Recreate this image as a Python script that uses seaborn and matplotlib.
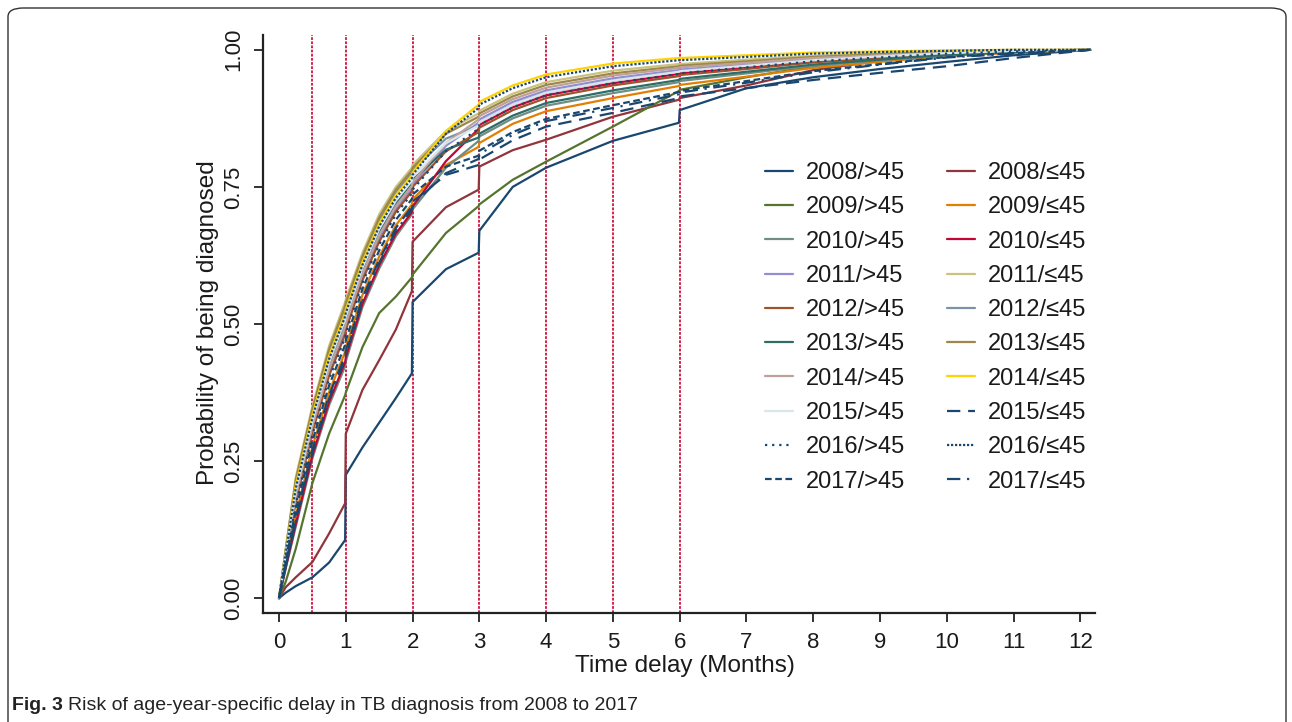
import matplotlib
matplotlib.use("Agg")
import matplotlib.pyplot as plt
import seaborn as sns
from matplotlib.patches import FancyBboxPatch

# ---------------- data ----------------
months = [0, 0.1, 0.25, 0.5, 0.75, 0.99, 1.0, 1.25, 1.5, 1.75, 1.99, 2.0, 2.5, 2.99, 3.0,
          3.5, 4, 5, 5.99, 6.0, 7, 8, 9, 10, 11, 12.15]

gt45_2008 = [0, 0.01, 0.022, 0.038, 0.065, 0.106, 0.225, 0.275, 0.32, 0.365, 0.41, 0.54, 0.60, 0.63, 0.67, 0.75, 0.785, 0.834, 0.867, 0.89, 0.93, 0.95, 0.965, 0.978, 0.99, 1.0]
le45_2008 = [0, 0.02, 0.038, 0.066, 0.118, 0.173, 0.30, 0.38, 0.434, 0.49, 0.56, 0.65, 0.713, 0.745, 0.787, 0.817, 0.836, 0.878, 0.909, 0.912, 0.935, 0.963, 0.98, 0.99, 0.995, 1.0]
gt45_2009 = [0, 0.03, 0.09, 0.21, 0.30, 0.37, 0.375, 0.458, 0.52, 0.55, 0.585, 0.59, 0.666, 0.715, 0.718, 0.763, 0.796, 0.86, 0.925, 0.927, 0.95, 0.97, 0.985, 0.992, 0.996, 1.0]
le45_2009 = [0, 0.062, 0.15, 0.276, 0.376, 0.449, 0.457, 0.553, 0.623, 0.68, 0.718, 0.727, 0.79, 0.823, 0.83, 0.865, 0.888, 0.912, 0.934, 0.936, 0.951, 0.967, 0.978, 0.989, 0.995, 1.0]
gt45_2010 = [0, 0.054, 0.13, 0.255, 0.352, 0.423, 0.432, 0.531, 0.601, 0.66, 0.70, 0.709, 0.785, 0.834, 0.842, 0.875, 0.898, 0.921, 0.941, 0.943, 0.957, 0.971, 0.981, 0.99, 0.996, 1.0]
le45_2010 = [0, 0.056, 0.135, 0.26, 0.358, 0.43, 0.439, 0.537, 0.607, 0.665, 0.704, 0.714, 0.797, 0.856, 0.863, 0.895, 0.917, 0.939, 0.956, 0.957, 0.968, 0.979, 0.986, 0.993, 0.997, 1.0]
gt45_2011 = [0, 0.074, 0.18, 0.308, 0.412, 0.488, 0.495, 0.586, 0.656, 0.71, 0.747, 0.754, 0.825, 0.867, 0.873, 0.905, 0.926, 0.948, 0.963, 0.964, 0.973, 0.983, 0.989, 0.995, 0.998, 1.0]
le45_2011 = [0, 0.09, 0.22, 0.35, 0.46, 0.54, 0.545, 0.63, 0.70, 0.75, 0.785, 0.79, 0.852, 0.884, 0.889, 0.92, 0.941, 0.962, 0.974, 0.974, 0.982, 0.989, 0.993, 0.997, 0.999, 1.0]
gt45_2012 = [0, 0.072, 0.175, 0.303, 0.406, 0.481, 0.489, 0.58, 0.65, 0.705, 0.742, 0.75, 0.815, 0.85, 0.858, 0.89, 0.912, 0.935, 0.952, 0.954, 0.965, 0.977, 0.985, 0.993, 0.997, 1.0]
le45_2012 = [0, 0.086, 0.21, 0.34, 0.448, 0.527, 0.533, 0.619, 0.689, 0.74, 0.776, 0.781, 0.838, 0.862, 0.868, 0.90, 0.922, 0.944, 0.96, 0.961, 0.971, 0.981, 0.988, 0.994, 0.998, 1.0]
gt45_2013 = [0, 0.078, 0.19, 0.318, 0.424, 0.501, 0.507, 0.597, 0.667, 0.72, 0.757, 0.763, 0.818, 0.84, 0.847, 0.88, 0.903, 0.926, 0.945, 0.947, 0.96, 0.973, 0.982, 0.991, 0.996, 1.0]
le45_2013 = [0, 0.088, 0.215, 0.345, 0.454, 0.533, 0.539, 0.624, 0.694, 0.745, 0.78, 0.785, 0.847, 0.878, 0.884, 0.915, 0.936, 0.957, 0.97, 0.971, 0.979, 0.987, 0.992, 0.996, 0.999, 1.0]
gt45_2014 = [0, 0.076, 0.185, 0.313, 0.418, 0.495, 0.501, 0.592, 0.662, 0.715, 0.752, 0.759, 0.83, 0.873, 0.879, 0.91, 0.931, 0.953, 0.967, 0.968, 0.976, 0.985, 0.99, 0.995, 0.998, 1.0]
le45_2014 = [0, 0.084, 0.205, 0.334, 0.442, 0.52, 0.526, 0.613, 0.683, 0.735, 0.771, 0.776, 0.852, 0.90, 0.905, 0.935, 0.955, 0.975, 0.985, 0.985, 0.99, 0.995, 0.997, 0.999, 1.0, 1.0]
gt45_2015 = [0, 0.08, 0.195, 0.324, 0.43, 0.508, 0.514, 0.603, 0.673, 0.725, 0.761, 0.768, 0.83, 0.862, 0.868, 0.90, 0.922, 0.944, 0.96, 0.961, 0.971, 0.981, 0.988, 0.994, 0.998, 1.0]
le45_2015 = [0, 0.06, 0.145, 0.271, 0.37, 0.442, 0.451, 0.547, 0.617, 0.675, 0.714, 0.723, 0.772, 0.79, 0.80, 0.835, 0.86, 0.885, 0.912, 0.915, 0.93, 0.945, 0.958, 0.97, 0.985, 1.0]
gt45_2016 = [0, 0.07, 0.17, 0.298, 0.40, 0.475, 0.483, 0.575, 0.645, 0.70, 0.738, 0.745, 0.815, 0.856, 0.863, 0.895, 0.917, 0.939, 0.956, 0.957, 0.968, 0.979, 0.986, 0.993, 0.997, 1.0]
le45_2016 = [0, 0.082, 0.20, 0.329, 0.436, 0.514, 0.52, 0.608, 0.678, 0.73, 0.766, 0.772, 0.847, 0.894, 0.90, 0.93, 0.95, 0.97, 0.981, 0.981, 0.987, 0.993, 0.996, 0.998, 1.0, 1.0]
gt45_2017 = [0, 0.066, 0.16, 0.287, 0.388, 0.462, 0.47, 0.564, 0.634, 0.69, 0.728, 0.736, 0.787, 0.807, 0.816, 0.85, 0.874, 0.899, 0.923, 0.925, 0.943, 0.961, 0.974, 0.987, 0.994, 1.0]
le45_2017 = [0, 0.058, 0.14, 0.266, 0.364, 0.436, 0.445, 0.542, 0.612, 0.67, 0.709, 0.718, 0.775, 0.801, 0.81, 0.845, 0.87, 0.894, 0.919, 0.922, 0.94, 0.959, 0.973, 0.986, 0.993, 1.0]

years = ["2008", "2009", "2010", "2011", "2012", "2013", "2014", "2015", "2016", "2017"]
gt45_series = [gt45_2008, gt45_2009, gt45_2010, gt45_2011, gt45_2012,
               gt45_2013, gt45_2014, gt45_2015, gt45_2016, gt45_2017]
le45_series = [le45_2008, le45_2009, le45_2010, le45_2011, le45_2012,
               le45_2013, le45_2014, le45_2015, le45_2016, le45_2017]
cutoffs = [0.5, 1, 2, 3, 4, 5, 6]
x_ticks = list(range(13))
y_ticks = [0, 0.25, 0.5, 0.75, 1.0]
y_ticklabels = ["0.00", "0.25", "0.50", "0.75", "1.00"]

# ---------------- styles ----------------
NAVY = "#1a476f"
gt45_colors = [NAVY, "#55752f", "#6e8e84", "#938dd2", "#a0522d",
               "#2d6d66", "#bfa19c", "#d9e6eb", NAVY, NAVY]
le45_colors = ["#90353b", "#e37e00", "#c10534", "#cac27e", "#7b92a8",
               "#9c8847", "#ffd200", NAVY, NAVY, NAVY]
gt45_styles = ["-"] * 8 + [(0, (1, 2.2)), (0, (3, 1.6))]
le45_styles = ["-"] * 7 + [(0, (6, 3.5)), (0, (1, 0.8)), (0, (6, 3, 1, 3))]

sns.set_theme(style="white")
plt.rcParams["font.family"] = ["Liberation Sans", "DejaVu Sans"]

fig = plt.figure(figsize=(12.92, 7.22), dpi=100)
W, H = 1292, 722
AX_L, AX_R, AX_T, AX_B = 263, 1095, 35, 613
ax = fig.add_axes([AX_L / W, 1 - AX_B / H, (AX_R - AX_L) / W, (AX_B - AX_T) / H])

for c in cutoffs:
    ax.axvline(c, color="#d0103a", lw=1.3, ls=(0, (1.5, 0.8)), zorder=1)

handles_gt, handles_le = [], []
for i, yr in enumerate(years):
    for series, colors, styles, store, lab in (
        (gt45_series, gt45_colors, gt45_styles, handles_gt, yr + "/>45"),
        (le45_series, le45_colors, le45_styles, handles_le, yr + "/\u226445"),
    ):
        sns.lineplot(x=months, y=series[i], ax=ax, color=colors[i],
                     linestyle=styles[i], lw=1.6, estimator=None, sort=False,
                     zorder=2)
        line = ax.get_lines()[-1]
        store.append((line, lab))

hs = [h for h, _ in handles_gt] + [h for h, _ in handles_le]
ls = [l for _, l in handles_gt] + [l for _, l in handles_le]
leg = ax.legend(hs, ls, ncol=2, loc="upper left", frameon=False,
                bbox_to_anchor=(765 / W, 1 - 162 / H), bbox_transform=fig.transFigure,
                fontsize=17, handlelength=1.2, handletextpad=0.55,
                labelspacing=0.52, columnspacing=1.75, borderaxespad=0,
                borderpad=0)
for t in leg.get_texts():
    t.set_color("#1a1a1a")

ax.set_xlim(-0.24, 12.22)
ax.set_ylim(-0.027, 1.027)
ax.set_xticks(x_ticks)
ax.set_yticks(y_ticks)
ax.set_yticklabels(y_ticklabels, rotation=90, va="center")
ax.tick_params(axis="both", which="both", direction="out", length=6.5, width=1.3,
               color="#222222", labelsize=16, labelcolor="#1a1a1a", bottom=True, left=True)
ax.tick_params(axis="y", pad=7)
ax.tick_params(axis="x", pad=7)
for side in ("top", "right"):
    ax.spines[side].set_visible(False)
for side in ("left", "bottom"):
    ax.spines[side].set_color("#222222")
    ax.spines[side].set_linewidth(1.6)

ax.set_xlabel("Time delay (Months)", fontsize=17.5, color="#1a1a1a")
ax.set_ylabel("Probability of being diagnosed", fontsize=17.5, color="#1a1a1a")
ax.xaxis.set_label_coords((685 - AX_L) / (AX_R - AX_L), (AX_B - 666) / (AX_B - AX_T))
ax.yaxis.set_label_coords((208 - AX_L) / (AX_R - AX_L), (AX_B - 323) / (AX_B - AX_T))
ax.xaxis.label.set_va("center")
ax.yaxis.label.set_va("center")

# frame around the figure (journal panel)
frame = FancyBboxPatch((8 / W, -0.2), (1286 - 8) / W, 1.2 - 8 / H,
                       boxstyle="round,pad=0,rounding_size=0.012",
                       transform=fig.transFigure, fill=False,
                       edgecolor="#333333", lw=1.0, clip_on=False)
fig.patches.append(frame)

# caption
cap_font = ["Liberation Sans", "DejaVu Sans"]
t1 = fig.text(12 / W, 1 - 706 / H, "Fig. 3", fontsize=14, fontweight="bold",
              family=cap_font, color="#222222", va="center", ha="left")
fig.canvas.draw()
bb = t1.get_window_extent()
fig.text((bb.x1 + 5) / W, 1 - 706 / H,
         "Risk of age-year-specific delay in TB diagnosis from 2008 to 2017",
         fontsize=14, family=cap_font, color="#222222", va="center", ha="left")

fig.savefig("out.png", dpi=100)
